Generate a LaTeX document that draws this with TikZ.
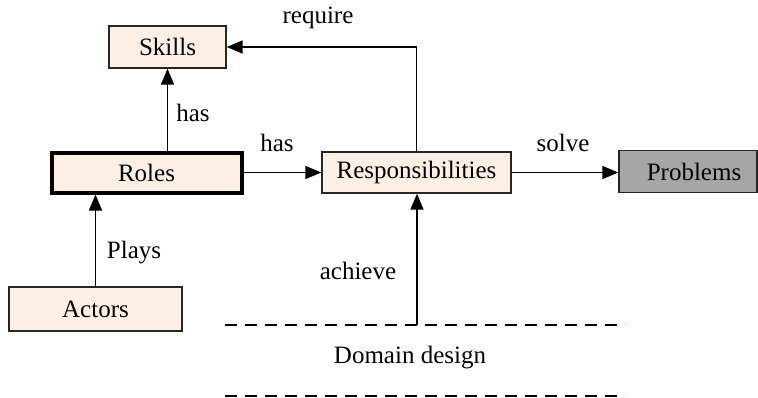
\documentclass[tikz,border=0pt]{standalone}
\usepackage{fontspec}
\setmainfont{Liberation Serif}
\usetikzlibrary{arrows.meta}
\definecolor{peach}{RGB}{253,239,228}
\definecolor{probgray}{RGB}{166,166,166}
\begin{document}
\begin{tikzpicture}[x=1pt,y=-1pt,
  font=\fontsize{25}{29}\selectfont,
  box/.style={draw=black!85, line width=1.3pt, fill=peach, inner sep=0pt, align=center},
  link/.style={line width=1.6pt, -{Triangle[length=16pt,width=13pt]}},
  lbl/.style={inner sep=0pt}]
  \useasboundingbox (0,0) rectangle (758,397);

  % entity boxes
  \node[box, minimum width=117pt, minimum height=42pt] (skills) at (167.5,47) {Skills};
  \node[box, line width=4pt, draw=black, minimum width=190pt, minimum height=40pt] (roles) at (146.5,172.5) {Roles};
  \node[box, minimum width=189pt, minimum height=41pt] (resp) at (416.5,172.5) {Responsibilities};
  \node[box, fill=probgray, minimum width=138pt, minimum height=42pt] (problems) at (688,171.5) {\hspace{12pt}Problems};
  \node[box, minimum width=173pt, minimum height=44pt] (actors) at (95.5,309) {Actors};

  % domain design band
  \coordinate (dtl) at (225,325);
  \coordinate (dtr) at (625,325);
  \coordinate (dbl) at (225,396);
  \coordinate (dbr) at (625,396);
  \coordinate (dach) at (417,325);
  \draw[line width=1.3pt, dash pattern=on 12pt off 8pt] (dtl) -- (dtr);
  \draw[line width=1.3pt, dash pattern=on 12pt off 8pt] (dbl) -- (dbr);
  \node[lbl] (domain) at (410,358) {Domain design};

  % relations
  \draw[link] (roles.north -| skills.south) -- (skills.south);
  \draw[link] (roles.east) -- (resp.west);
  \draw[link] (resp.north) |- (skills.east);
  \draw[link] (resp.east) -- (resp.east -| problems.west);
  \draw[link] (actors.north) -- (roles.south -| actors.north);
  \draw[link] (dach) -- (resp.south -| dach);

  % relation labels
  \node[lbl] (lhas1) at (193,113) {has};
  \node[lbl] (lhas2) at (277,143) {has};
  \node[lbl] (lreq) at (318,18) {require};
  \node[lbl] (lsolve) at (563,143) {solve};
  \node[lbl] (lplays) at (134,253) {Plays};
  \node[lbl] (lach) at (358,271) {achieve};
\end{tikzpicture}
\end{document}
